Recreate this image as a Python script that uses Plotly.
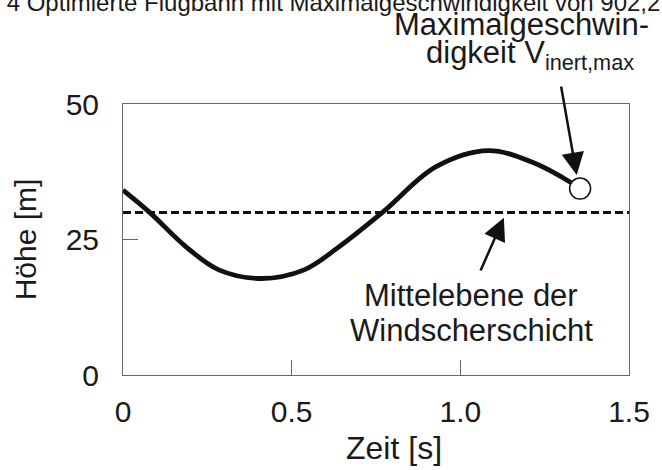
import plotly.graph_objects as go

# Data
zeit = [0.0, 0.079, 0.186, 0.284, 0.41, 0.537, 0.635, 0.771, 0.927, 1.083, 1.219, 1.331, 1.355]
hoehe = [34.1, 30.0, 23.7, 19.4, 17.8, 19.4, 23.4, 30.1, 38.4, 41.4, 39.1, 35.4, 34.4]
mittelebene_x = [0.0, 1.5]
mittelebene_y = [30.0, 30.0]
vmax_t = [1.355]
vmax_h = [34.4]
x_ticks = [0, 0.5, 1.0, 1.5]
x_ticktext = ["0", "0.5", "1.0", "1.5"]
y_ticks = [0, 25, 50]
y_ticktext = ["0", "25", "50"]

FONT = "Liberation Sans, Arial, sans-serif"
TXT = "#1a1a1a"

fig = go.Figure()
fig.add_trace(go.Scatter(x=mittelebene_x, y=mittelebene_y, mode="lines",
                         line=dict(color="#111", width=3, dash="8px,4px"),
                         showlegend=False, hoverinfo="skip"))
fig.add_trace(go.Scatter(x=zeit, y=hoehe, mode="lines",
                         line=dict(color="#111", width=4.8, shape="spline", smoothing=1.0),
                         showlegend=False))
fig.add_trace(go.Scatter(x=vmax_t, y=vmax_h, mode="markers",
                         marker=dict(size=21, color="white", line=dict(color="#111", width=1.5)),
                         showlegend=False, cliponaxis=False))

ann = []
# Top caption (cut off in the reference)
ann.append(dict(text="Bild 4 Optimierte Flugbahn mit Maximalgeschwindigkeit von 902,2",
                xref="paper", yref="paper", x=(-44 - 123) / 513, y=(375 - 2) / 271,
                xanchor="left", yanchor="middle", showarrow=False,
                font=dict(family=FONT, size=24, color=TXT)))
# Max speed label
ann.append(dict(text="Maximalgeschwin-", xref="paper", yref="paper",
                x=(527 - 123) / 513, y=(375 - 25) / 271, xanchor="center", yanchor="middle",
                showarrow=False, font=dict(family=FONT, size=31, color=TXT)))
ann.append(dict(text="digkeit V<sub>inert,max</sub>", xref="paper", yref="paper",
                x=(536 - 123) / 513, y=(375 - 55) / 271, xanchor="center", yanchor="middle",
                showarrow=False, font=dict(family=FONT, size=31, color=TXT)))
# Arrow to circle
ann.append(dict(text="", x=1.345, y=36.9, xref="x", yref="y",
                ax=1.298, ay=53.5, axref="x", ayref="y", showarrow=True,
                arrowhead=2, arrowsize=1.8, arrowwidth=2.5, arrowcolor="#111", standoff=0))
# Mittelebene label
ann.append(dict(text="Mittelebene der", xref="paper", yref="paper",
                x=(476 - 123) / 513, y=(375 - 295) / 271, xanchor="center", yanchor="middle",
                showarrow=False, font=dict(family=FONT, size=31, color=TXT)))
ann.append(dict(text="Windscherschicht", xref="paper", yref="paper",
                x=(476 - 123) / 513, y=(375 - 330) / 271, xanchor="center", yanchor="middle",
                showarrow=False, font=dict(family=FONT, size=31, color=TXT)))
ann.append(dict(text="", x=1.129, y=29.0, xref="x", yref="y",
                ax=1.058, ay=19.0, axref="x", ayref="y", showarrow=True,
                arrowhead=2, arrowsize=1.8, arrowwidth=2.5, arrowcolor="#111", standoff=0))
# X axis title
ann.append(dict(text="Zeit [s]", xref="paper", yref="paper",
                x=(398 - 123) / 513, y=(375 - 448) / 271, xanchor="center", yanchor="middle",
                showarrow=False, font=dict(family=FONT, size=32, color=TXT)))

fig.update_layout(
    width=662, height=470,
    margin=dict(l=123, r=26, t=104, b=95),
    paper_bgcolor="white", plot_bgcolor="white",
    font=dict(family=FONT, size=30, color=TXT),
    annotations=ann,
    xaxis=dict(range=[0, 1.5], tickvals=x_ticks, ticktext=x_ticktext,
               showline=True, mirror=True, linecolor="#666", linewidth=1,
               ticks="inside", ticklen=15, tickcolor="#666", tickwidth=1,
               showgrid=False, zeroline=False, ticklabelstandoff=10,
               tickfont=dict(family=FONT, size=30, color=TXT)),
    yaxis=dict(range=[0, 50], tickvals=y_ticks, ticktext=y_ticktext,
               showline=True, mirror=True, linecolor="#666", linewidth=1,
               ticks="inside", ticklen=15, tickcolor="#666", tickwidth=1,
               showgrid=False, zeroline=False, ticklabelstandoff=17,
               title=dict(text="Höhe [m]", font=dict(family=FONT, size=30, color=TXT), standoff=20),
               tickfont=dict(family=FONT, size=30, color=TXT)),
)

fig.write_html("out.html")
